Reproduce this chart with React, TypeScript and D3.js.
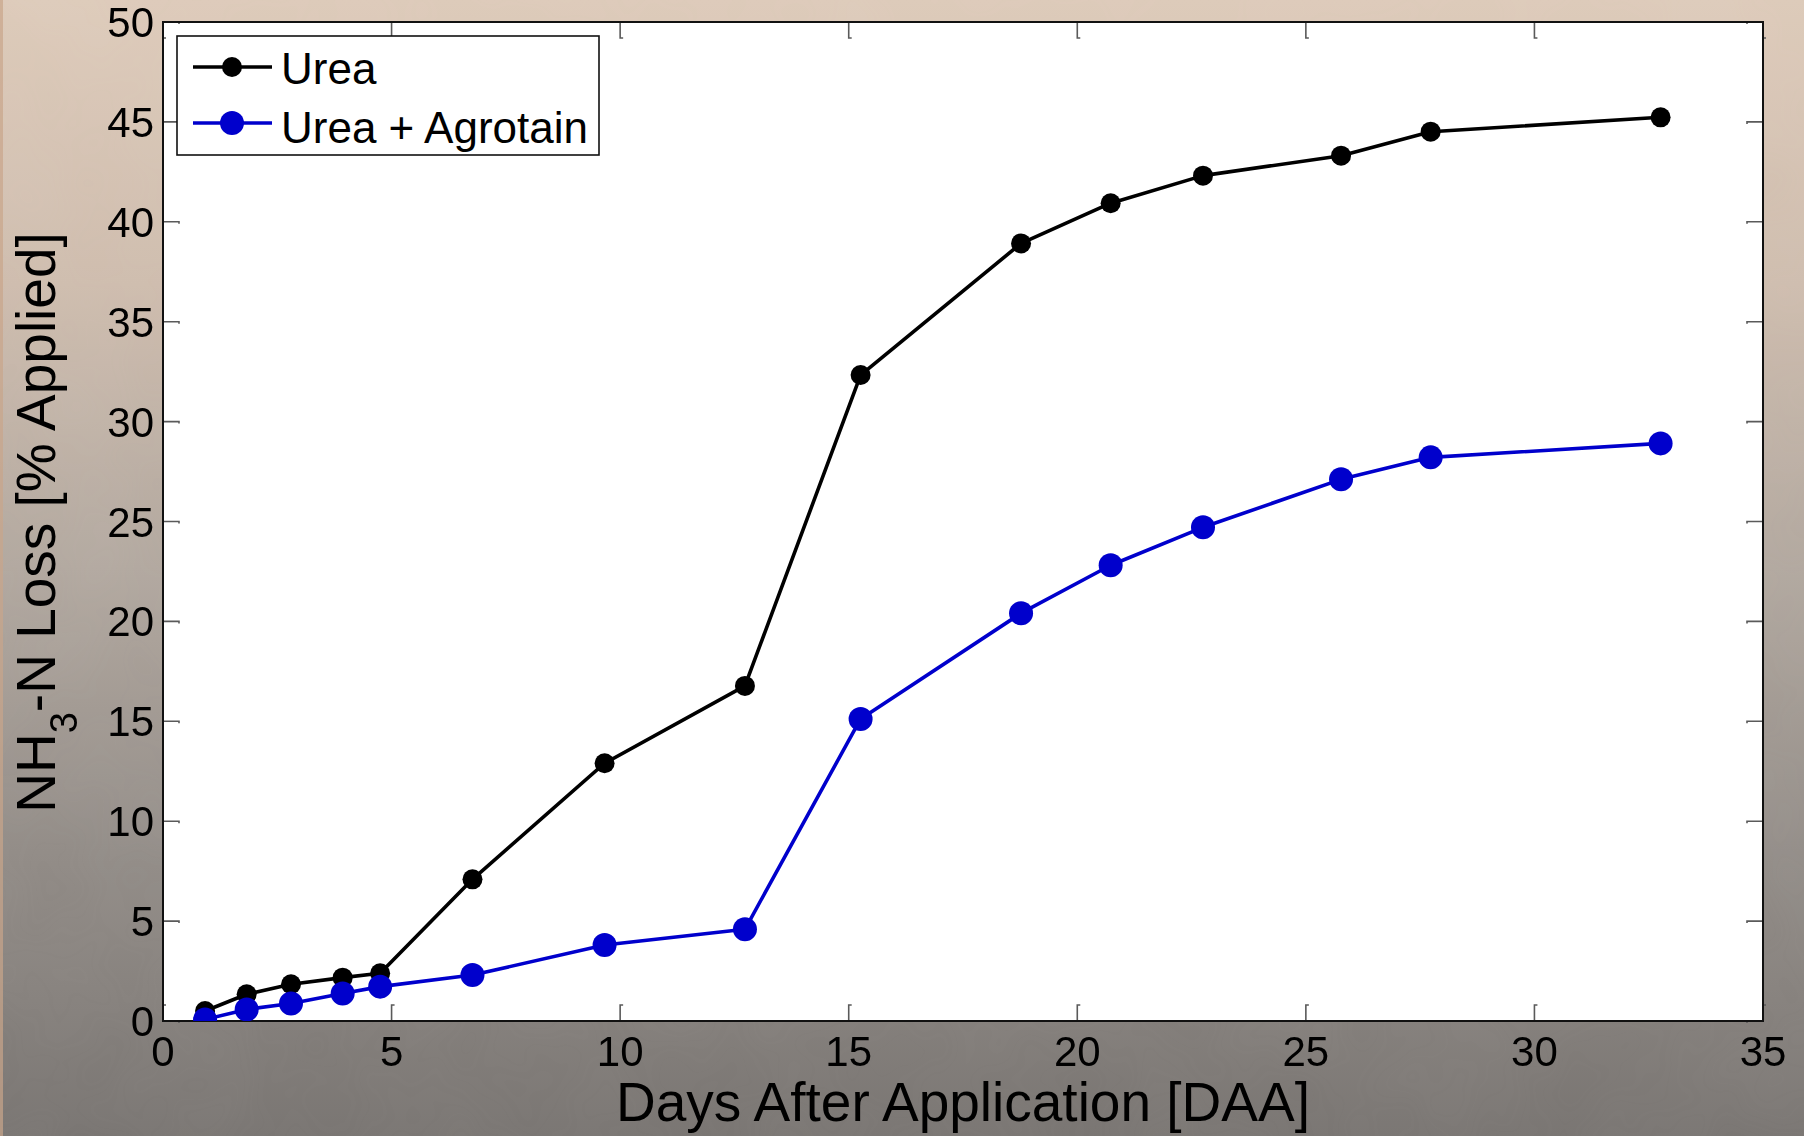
import React from "react";
import * as d3 from "d3";

// Sampling days after application
const days = [0.92, 1.83, 2.8, 3.93, 4.75, 6.77, 9.66, 12.73, 15.26, 18.77, 20.73, 22.75, 25.77, 27.73, 32.76];
// Cumulative NH3-N loss, % of applied N
const ureaLoss = [0.5, 1.34, 1.84, 2.17, 2.39, 7.09, 12.9, 16.77, 32.33, 38.92, 40.93, 42.31, 43.31, 44.51, 45.23];
const agrotainLoss = [0.08, 0.58, 0.88, 1.38, 1.72, 2.3, 3.8, 4.59, 15.12, 20.41, 22.81, 24.71, 27.11, 28.21, 28.91];

const xTicks = [0, 5, 10, 15, 20, 25, 30, 35];
const yTicks = [0, 5, 10, 15, 20, 25, 30, 35, 40, 45, 50];

const seriesNames = ["Urea", "Urea + Agrotain"];
const seriesColors = ["#000000", "#0000CC"];
const markerRadii = [10, 12];

const W = 1804;
const H = 1136;
const M = { left: 163, right: 1763, top: 22, bottom: 1021 };
const FONT = "'Liberation Sans', Arial, Helvetica, sans-serif";

export default function App() {
  const x = d3.scaleLinear().domain([0, 35]).range([M.left, M.right]);
  const y = d3.scaleLinear().domain([0, 50]).range([M.bottom, M.top]);

  const series = [ureaLoss, agrotainLoss].map((vals) => days.map((d, i) => [d, vals[i]] as [number, number]));
  const line = d3
    .line<[number, number]>()
    .x((d) => x(d[0]))
    .y((d) => y(d[1]));

  const tickLen = 16;
  const tickColor = "#5a5a5a";

  return (
    <svg
      width={W}
      height={H}
      viewBox={`0 0 ${W} ${H}`}
      style={{ position: "absolute", left: 0, top: 0, display: "block" }}
    >
      <defs>
        <linearGradient id="bg" x1="0" y1="0" x2="0" y2="1">
          <stop offset="0" stopColor="#ddcab9" />
          <stop offset="0.25" stopColor="#cebcad" />
          <stop offset="0.5" stopColor="#b1a79e" />
          <stop offset="0.75" stopColor="#918b86" />
          <stop offset="1" stopColor="#787471" />
        </linearGradient>
        <filter id="mottle" x="0" y="0" width="100%" height="100%">
          <feTurbulence type="fractalNoise" baseFrequency="0.008" numOctaves="3" seed="7" />
          <feColorMatrix type="matrix" values="0 0 0 0 0.5  0 0 0 0 0.5  0 0 0 0 0.5  0 0 0 0.9 0" />
        </filter>
        <clipPath id="plotClip">
          <rect x={M.left} y={M.top} width={M.right - M.left} height={M.bottom - M.top} />
        </clipPath>
      </defs>

      {/* background */}
      <rect x={0} y={0} width={W} height={H} fill="url(#bg)" />
      <rect x={0} y={0} width={W} height={H} filter="url(#mottle)" opacity={0.12} style={{ mixBlendMode: "overlay" }} />
      <rect x={0} y={0} width={3} height={H} fill="#c9a58a" opacity={0.7} />

      {/* plot area */}
      <rect x={M.left} y={M.top} width={M.right - M.left} height={M.bottom - M.top} fill="#ffffff" />

      {/* inward ticks */}
      <g stroke={tickColor} strokeWidth={1.6} fill="none">
        {xTicks.map((t) => (
          <g key={`xt${t}`}>
            <path d={`M${x(t)},${M.bottom} V${M.bottom - tickLen} h3`} />
            <path d={`M${x(t)},${M.top} V${M.top + tickLen} h3`} />
          </g>
        ))}
        {yTicks.map((t) => (
          <g key={`yt${t}`}>
            <path d={`M${M.left},${y(t)} H${M.left + tickLen} v2`} />
            <path d={`M${M.right},${y(t)} H${M.right - tickLen} v2`} />
          </g>
        ))}
      </g>

      {/* frame */}
      <rect
        x={M.left}
        y={M.top}
        width={M.right - M.left}
        height={M.bottom - M.top}
        fill="none"
        stroke="#111"
        strokeWidth={2}
      />

      {/* data */}
      <g clipPath="url(#plotClip)">
        {series.map((pts, si) => (
          <g key={seriesNames[si]}>
            <path d={line(pts) || ""} fill="none" stroke={seriesColors[si]} strokeWidth={3.6} strokeLinejoin="round" />
            {pts.map((p, i) => (
              <circle key={i} cx={x(p[0])} cy={y(p[1])} r={markerRadii[si]} fill={seriesColors[si]} />
            ))}
          </g>
        ))}
      </g>

      {/* tick labels */}
      <g fontFamily={FONT} fontSize={42} fill="#000">
        {xTicks.map((t) => (
          <text key={`xl${t}`} x={x(t)} y={M.bottom + 45} textAnchor="middle">
            {t}
          </text>
        ))}
        {yTicks.map((t) => (
          <text key={`yl${t}`} x={154} y={y(t) + 15} textAnchor="end">
            {t}
          </text>
        ))}
      </g>

      {/* axis titles */}
      <text
        x={(M.left + M.right) / 2}
        y={1121}
        textAnchor="middle"
        fontFamily={FONT}
        fontSize={55}
        fill="#000"
      >
        Days After Application [DAA]
      </text>
      <text
        transform={`translate(55, ${(M.top + M.bottom) / 2 + 1}) rotate(-90)`}
        textAnchor="middle"
        fontFamily={FONT}
        fontSize={55}
        fill="#000"
      >
        NH
        <tspan fontSize={38} dy={22}>
          3
        </tspan>
        <tspan dy={-22}>-N Loss [% Applied]</tspan>
      </text>

      {/* legend */}
      <g>
        <rect x={177} y={36} width={422} height={119} fill="#ffffff" stroke="#111" strokeWidth={1.6} />
        {seriesNames.map((name, i) => {
          const cy = 67 + i * 56;
          return (
            <g key={`lg${name}`}>
              <line x1={193} x2={272} y1={cy} y2={cy} stroke={seriesColors[i]} strokeWidth={3.6} />
              <circle cx={232} cy={cy} r={markerRadii[i]} fill={seriesColors[i]} />
              <text x={281} y={cy + 17 + i * 3} fontFamily={FONT} fontSize={44} fill="#000">
                {name}
              </text>
            </g>
          );
        })}
      </g>
    </svg>
  );
}
